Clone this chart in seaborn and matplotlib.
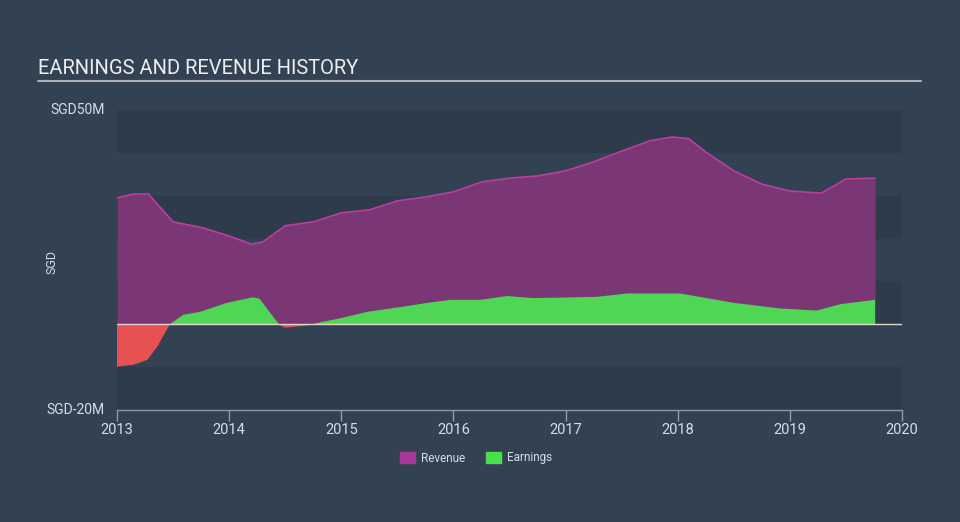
import numpy as np
import matplotlib
matplotlib.use("Agg")
import matplotlib.pyplot as plt
import seaborn as sns
from matplotlib.patches import Patch

sns.set_theme(style="dark")
plt.rcParams["font.family"] = ["Roboto", "DejaVu Sans"]

# values in SGD millions
rev_years = [2013.0, 2013.15, 2013.28, 2013.5, 2013.75, 2014.0, 2014.2, 2014.3,
             2014.5, 2014.75, 2015.0, 2015.25, 2015.5, 2015.75, 2016.0, 2016.25,
             2016.5, 2016.75, 2017.0, 2017.25, 2017.5, 2017.75, 2017.95, 2018.1,
             2018.25, 2018.5, 2018.75, 2019.0, 2019.28, 2019.5, 2019.76]
revenue = [29.5, 30.4, 30.4, 23.9, 22.6, 20.6, 18.7, 19.2,
           23.0, 23.9, 26.0, 26.7, 28.8, 29.7, 30.9, 33.2,
           34.1, 34.6, 35.8, 37.9, 40.4, 42.8, 43.7, 43.3,
           40.2, 35.8, 32.7, 31.1, 30.6, 33.9, 34.1]

earn_years = [2013.0, 2013.15, 2013.27, 2013.36, 2013.47, 2013.59, 2013.74, 2013.98,
              2014.21, 2014.27, 2014.45, 2014.5, 2014.72, 2014.78, 2014.99, 2015.23,
              2015.52, 2015.77, 2015.97, 2016.24, 2016.48, 2016.71, 2017.28, 2017.55,
              2018.02, 2018.5, 2018.91, 2019.24, 2019.45, 2019.76]
earnings = [-9.9, -9.4, -8.3, -5.2, 0.0, 2.2, 2.9, 5.0,
            6.3, 6.0, -0.2, -0.8, -0.2, 0.3, 1.4, 2.9,
            4.0, 5.0, 5.7, 5.7, 6.6, 6.1, 6.4, 7.2,
            7.2, 5.0, 3.7, 3.2, 4.7, 5.7]

y_ticks = [-20, 50]
y_tick_labels = ["SGD-20M", "SGD50M"]
x_ticks = [2013, 2014, 2015, 2016, 2017, 2018, 2019, 2020]

bg = "#334252"
band = "#2d3b4a"
rev_fill = "#7b3775"
rev_line = "#b8409f"
earn_pos = "#4fd654"
earn_neg = "#e85151"
text_col = "#d8dde3"

fig = plt.figure(figsize=(9.6, 5.22), dpi=100, facecolor=bg)
ax = fig.add_axes([117 / 960, 1 - 410 / 522, 785 / 960, 300 / 522])
ax.set_facecolor(bg)

# horizontal stripes
for lo in [40, 20, 0, -20]:
    ax.axhspan(lo, lo + 10, color=band, lw=0, zorder=0)

ry = np.array(rev_years)
rv = np.array(revenue)
ax.fill_between(ry, 0, rv, color=rev_fill, lw=0, zorder=1)
sns.lineplot(x=ry, y=rv, color=rev_line, lw=1.2, ax=ax, zorder=2)

# finer grid so the sign split of earnings is clean
ey = np.array(earn_years)
ev = np.array(earnings)
fine_x = np.linspace(ey[0], ey[-1], 600)
fine_v = np.interp(fine_x, ey, ev)
ax.fill_between(fine_x, 0, fine_v, where=fine_v >= 0, interpolate=True,
                color=earn_pos, lw=0, zorder=3)
ax.fill_between(fine_x, 0, fine_v, where=fine_v <= 0, interpolate=True,
                color=earn_neg, lw=0, zorder=3)

ax.axhline(0, color="#e0d9c8", lw=1, zorder=4)

ax.set_xlim(2013, 2020)
ax.set_ylim(-20, 50)
ax.set_yticks(y_ticks)
ax.set_yticklabels(y_tick_labels)
ax.set_xticks(x_ticks)
ax.set_xticklabels([str(t) for t in x_ticks])
ax.tick_params(axis="y", length=0, colors=text_col, labelsize=10, pad=9)
ax.tick_params(axis="x", length=8, width=1, color="#8e9aa8", colors=text_col,
               labelsize=10.5, pad=1, direction="out", bottom=True)
for lab in ax.get_yticklabels():
    lab.set_verticalalignment("center")
for s in ["top", "right", "left"]:
    ax.spines[s].set_visible(False)
ax.spines["bottom"].set_color("#8e9aa8")
ax.spines["bottom"].set_linewidth(1)
ax.set_ylabel("")
ax.grid(False)

fig.text(52 / 960, 1 - 262 / 522, "SGD", color=text_col, fontsize=9,
         rotation=90, va="center", ha="center")
fig.text(38 / 960, 1 - 68 / 522, "EARNINGS AND REVENUE HISTORY", color="#eceff2",
         fontsize=14.5, va="center", ha="left")
fig.add_artist(plt.Line2D([38 / 960, 921 / 960], [1 - 81 / 522, 1 - 81 / 522],
                          color="#a9b0b8", lw=1.5))

handles = [Patch(color="#a8399a", label="Revenue"), Patch(color="#4be04b", label="Earnings")]
fig.legend(handles=handles, loc="center", bbox_to_anchor=(476 / 960, 1 - 458 / 522),
           ncol=2, frameon=False, fontsize=8.5, labelcolor=text_col,
           handlelength=1.3, handleheight=1.0, columnspacing=1.8, handletextpad=0.5)

fig.savefig("out.png", dpi=100, facecolor=bg)
